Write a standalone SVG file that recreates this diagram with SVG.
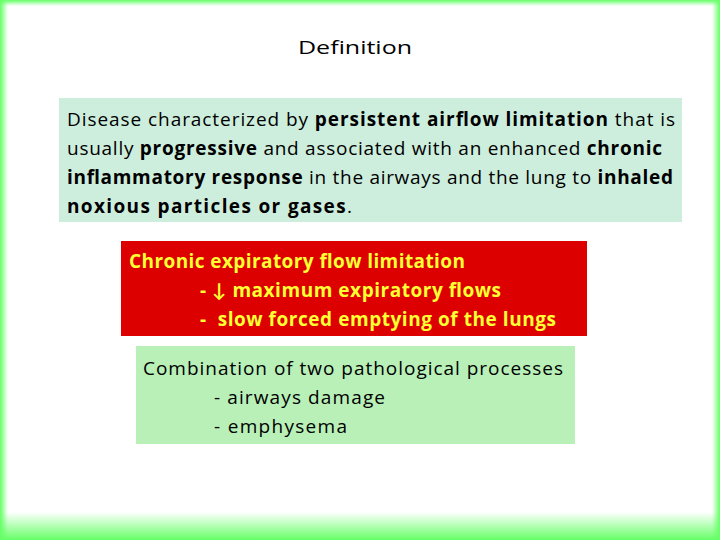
<svg xmlns="http://www.w3.org/2000/svg" width="720" height="540" viewBox="0 0 720 540">
<defs>
<linearGradient id="gb" x1="0" y1="0" x2="0" y2="1"><stop offset="0" stop-color="#66ff66" stop-opacity="0"/><stop offset="1" stop-color="#66ff66"/></linearGradient>
<linearGradient id="gt" x1="0" y1="1" x2="0" y2="0"><stop offset="0" stop-color="#66ff66" stop-opacity="0"/><stop offset="1" stop-color="#66ff66"/></linearGradient>
<linearGradient id="gl" x1="1" y1="0" x2="0" y2="0"><stop offset="0" stop-color="#66ff66" stop-opacity="0"/><stop offset="1" stop-color="#66ff66"/></linearGradient>
<linearGradient id="gr" x1="0" y1="0" x2="1" y2="0"><stop offset="0" stop-color="#66ff66" stop-opacity="0"/><stop offset="1" stop-color="#66ff66"/></linearGradient>
</defs>
<style>
text{font-family:"Open Sans",Lato,sans-serif;font-size:19px}
.b{font-weight:bold}
.y{fill:#ffff33;font-weight:bold}
</style>
<rect width="720" height="540" fill="#fff"/>
<rect x="0" y="0" width="720" height="6" fill="url(#gt)"/>
<rect x="0" y="512" width="720" height="28" fill="url(#gb)"/>
<rect x="0" y="0" width="8" height="540" fill="url(#gl)"/>
<rect x="712" y="0" width="8" height="540" fill="url(#gr)"/>
<g id="title"><text x="298" y="54" textLength="114" lengthAdjust="spacingAndGlyphs" font-size="20">Definition</text></g>
<g id="definition">
<rect x="59" y="98" width="623" height="124" fill="#cdeedd"/>
<text x="67" y="126" textLength="608">Disease characterized by <tspan class="b">persistent airflow limitation</tspan> that is</text>
<text x="67" y="155" textLength="595">usually <tspan class="b">progressive</tspan> and associated with an enhanced <tspan class="b">chronic</tspan></text>
<text x="67" y="184" textLength="606"><tspan class="b">inflammatory response</tspan> in the airways and the lung to <tspan class="b">inhaled</tspan></text>
<text x="67" y="213" textLength="285"><tspan class="b">noxious particles or gases</tspan>.</text>
</g>
<g id="flow">
<rect x="121" y="241" width="466" height="95" fill="#dd0000"/>
<text x="129" y="268" class="y" textLength="336">Chronic expiratory flow limitation</text>
<text x="200" y="297" class="y" textLength="301">- ↓ maximum expiratory flows</text>
<text x="200" y="326" class="y" textLength="356" xml:space="preserve">-  slow forced emptying of the lungs</text>
</g>
<g id="processes">
<rect x="136" y="346" width="439" height="98" fill="#b8f0b8"/>
<text x="143" y="375" textLength="420">Combination of two pathological processes</text>
<text x="214" y="404" textLength="171">- airways damage</text>
<text x="214" y="433" textLength="133">- emphysema</text>
</g>
<g id="connectors"/>
</svg>
